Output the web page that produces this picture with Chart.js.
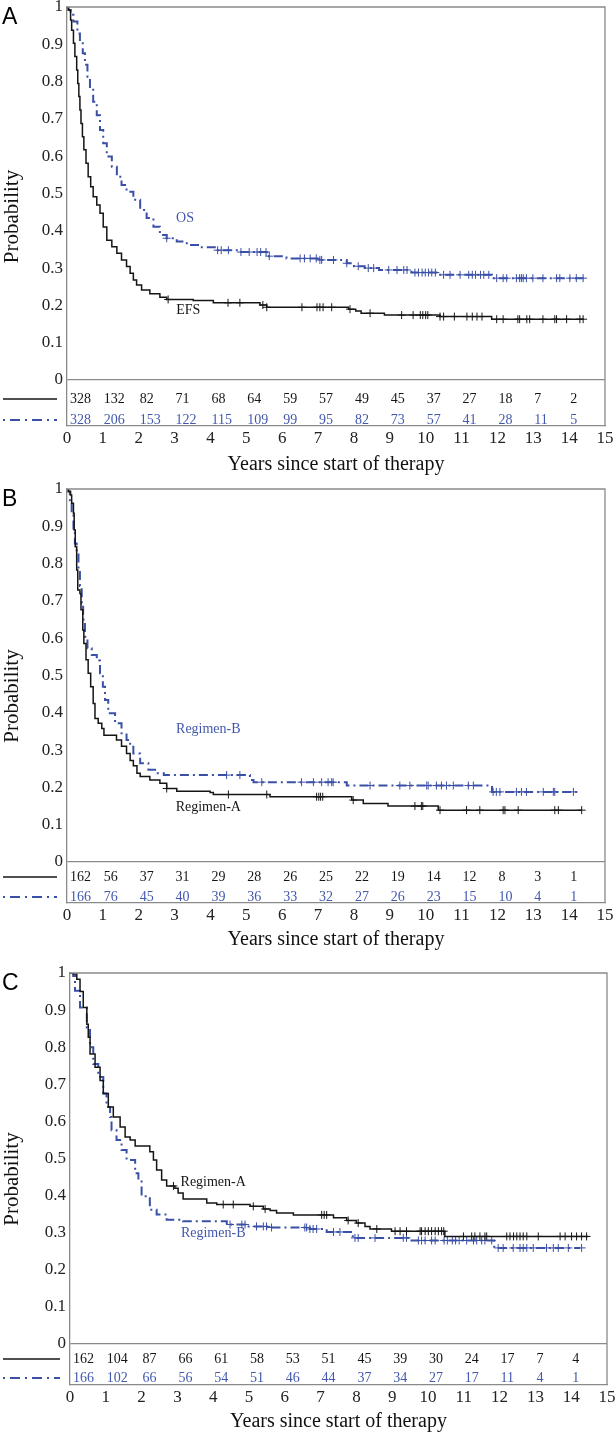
<!DOCTYPE html>
<html>
<head>
<meta charset="utf-8">
<script src="https://cdn.jsdelivr.net/npm/chart.js@4.4.0/dist/chart.umd.min.js"></script>
<style>
  html, body { margin: 0; padding: 0; background: #fff; }
  body { width: 616px; height: 1437px; overflow: hidden; position: relative; }
  .panel { position: absolute; left: 0; width: 616px; height: 483px; }
  canvas { display: block; }
</style>
</head>
<body>
<div class="panel" style="top:0px"><canvas id="chartA" width="616" height="483"></canvas></div>
<div class="panel" style="top:482px"><canvas id="chartB" width="616" height="483"></canvas></div>
<div class="panel" style="top:966px"><canvas id="chartC" width="616" height="483"></canvas></div>
<script>
const yearTicks = [0, 1, 2, 3, 4, 5, 6, 7, 8, 9, 10, 11, 12, 13, 14, 15];
const probTicks = [0, 0.1, 0.2, 0.3, 0.4, 0.5, 0.6, 0.7, 0.8, 0.9, 1];
const probLabels = ["0", "0.1", "0.2", "0.3", "0.4", "0.5", "0.6", "0.7", "0.8", "0.9", "1"];
const riskYears = [0, 1, 2, 3, 4, 5, 6, 7, 8, 9, 10, 11, 12, 13, 14];

// Panel A: EFS / OS
const efsTime = [0, 0.04, 0.1, 0.13, 0.18, 0.22, 0.27, 0.3, 0.33, 0.36, 0.39, 0.43, 0.47, 0.53, 0.59, 0.66, 0.73, 0.83, 0.92, 1.01, 1.11, 1.25, 1.39, 1.52, 1.66, 1.76, 1.85, 1.94, 2.08, 2.31, 2.59, 2.78, 3.52, 4.08, 5.38, 5.57, 7.85, 8.05, 8.2, 8.85, 10.4, 11.84, 14.4];
const efsProb = [1, 0.992, 0.965, 0.938, 0.903, 0.867, 0.831, 0.795, 0.76, 0.724, 0.688, 0.652, 0.617, 0.581, 0.545, 0.518, 0.491, 0.469, 0.447, 0.41, 0.375, 0.357, 0.34, 0.322, 0.304, 0.286, 0.268, 0.255, 0.241, 0.231, 0.222, 0.216, 0.213, 0.207, 0.201, 0.195, 0.19, 0.185, 0.179, 0.174, 0.17, 0.163, 0.163];
const efsCensor = [2.82, 4.49, 4.82, 5.46, 5.57, 6.55, 6.97, 7.05, 7.14, 7.38, 7.89, 8.45, 9.33, 9.65, 9.85, 9.92, 10.0, 10.06, 10.4, 10.5, 10.8, 11.15, 11.3, 11.43, 11.57, 11.98, 12.16, 12.57, 12.62, 12.82, 12.9, 13.27, 13.6, 13.65, 13.93, 14.3, 14.39];
const efsRisk = [328, 132, 82, 71, 68, 64, 59, 57, 49, 45, 37, 27, 18, 7, 2];

const osTime = [0, 0.04, 0.1, 0.18, 0.29, 0.36, 0.44, 0.5, 0.57, 0.64, 0.73, 0.83, 0.92, 1.01, 1.11, 1.25, 1.39, 1.52, 1.66, 1.85, 2.04, 2.22, 2.41, 2.59, 2.78, 3.06, 3.34, 3.71, 4.17, 4.82, 5.57, 6.12, 7.05, 7.8, 8.0, 8.3, 8.7, 9.6, 10.3, 11.85, 14.4];
const osProb = [1, 0.992, 0.979, 0.961, 0.929, 0.907, 0.876, 0.845, 0.813, 0.782, 0.746, 0.71, 0.67, 0.635, 0.599, 0.572, 0.545, 0.523, 0.505, 0.483, 0.456, 0.434, 0.411, 0.389, 0.38, 0.371, 0.362, 0.356, 0.348, 0.343, 0.332, 0.326, 0.322, 0.313, 0.305, 0.3, 0.295, 0.288, 0.282, 0.273, 0.273];
const osCensor = [2.78, 4.2, 4.3, 4.5, 4.85, 5.08, 5.3, 5.4, 5.55, 5.64, 6.5, 6.62, 6.78, 6.95, 7.05, 7.1, 7.43, 7.8, 8.12, 8.4, 8.55, 8.97, 9.2, 9.39, 9.48, 9.7, 9.8, 9.9, 9.99, 10.08, 10.17, 10.27, 10.5, 10.68, 10.96, 11.2, 11.3, 11.39, 11.53, 11.62, 11.76, 11.98, 12.16, 12.26, 12.53, 12.62, 12.67, 12.72, 12.81, 12.99, 13.27, 13.65, 13.74, 14.02, 14.2, 14.39];
const osRisk = [328, 206, 153, 122, 115, 109, 99, 95, 82, 73, 57, 41, 28, 11, 5];

// Panel B: Regimen-A / Regimen-B
const bATime = [0, 0.04, 0.1, 0.13, 0.18, 0.2, 0.23, 0.27, 0.3, 0.36, 0.39, 0.44, 0.47, 0.53, 0.59, 0.66, 0.73, 0.78, 0.87, 0.97, 1.03, 1.38, 1.52, 1.66, 1.76, 1.85, 1.95, 2.04, 2.31, 2.59, 2.78, 3.06, 3.99, 4.08, 5.66, 7.94, 8.26, 8.95, 10.35, 14.35];
const bAProb = [1, 0.993, 0.984, 0.962, 0.935, 0.89, 0.845, 0.783, 0.729, 0.72, 0.676, 0.622, 0.586, 0.542, 0.506, 0.47, 0.425, 0.385, 0.372, 0.358, 0.34, 0.327, 0.31, 0.291, 0.272, 0.258, 0.238, 0.229, 0.22, 0.211, 0.197, 0.19, 0.186, 0.181, 0.175, 0.166, 0.157, 0.15, 0.139, 0.139];
const bACensor = [2.78, 4.5, 5.57, 6.96, 7.02, 7.07, 7.13, 7.98, 9.7, 9.88, 9.92, 10.4, 11.14, 11.51, 12.16, 12.21, 12.58, 13.6, 13.7, 14.35];
const bARisk = [162, 56, 37, 31, 29, 28, 26, 25, 22, 19, 14, 12, 8, 3, 1];

const bBTime = [0, 0.04, 0.08, 0.13, 0.18, 0.22, 0.27, 0.32, 0.36, 0.41, 0.45, 0.5, 0.57, 0.69, 0.83, 0.92, 1.0, 1.06, 1.15, 1.34, 1.52, 1.66, 1.76, 1.85, 2.04, 2.27, 2.5, 2.7, 5.1, 5.2, 7.8, 11.85, 14.25];
const bBProb = [1, 0.993, 0.97, 0.935, 0.89, 0.854, 0.83, 0.783, 0.74, 0.694, 0.65, 0.604, 0.573, 0.555, 0.54, 0.506, 0.47, 0.434, 0.399, 0.372, 0.345, 0.327, 0.309, 0.291, 0.265, 0.247, 0.238, 0.233, 0.22, 0.214, 0.205, 0.188, 0.188];
const bBCensor = [4.45, 4.82, 5.43, 6.54, 6.87, 7.1, 7.28, 7.38, 7.42, 8.45, 9.28, 9.56, 10.03, 10.07, 10.3, 10.44, 10.58, 10.77, 11.19, 11.33, 11.88, 11.97, 12.07, 12.53, 12.67, 12.81, 13.28, 13.56, 13.6, 14.12];
const bBRisk = [166, 76, 45, 40, 39, 36, 33, 32, 27, 26, 23, 15, 10, 4, 1];

// Panel C: Regimen-A / Regimen-B
const cATime = [0, 0.09, 0.19, 0.28, 0.37, 0.47, 0.51, 0.56, 0.7, 0.84, 0.93, 1.07, 1.21, 1.4, 1.54, 1.68, 1.82, 2.23, 2.33, 2.42, 2.56, 2.7, 2.93, 3.02, 3.16, 3.82, 4.1, 5.03, 5.4, 5.59, 5.77, 6.24, 7.36, 7.73, 8.0, 8.24, 8.38, 8.98, 10.47, 14.48];
const cAProb = [1, 0.997, 0.983, 0.95, 0.907, 0.862, 0.827, 0.782, 0.746, 0.71, 0.675, 0.639, 0.612, 0.585, 0.558, 0.55, 0.534, 0.518, 0.496, 0.469, 0.442, 0.426, 0.42, 0.407, 0.391, 0.38, 0.376, 0.371, 0.364, 0.36, 0.353, 0.348, 0.34, 0.333, 0.326, 0.317, 0.31, 0.304, 0.29, 0.29];
const cACensor = [2.89, 4.28, 4.56, 5.12, 5.45, 7.03, 7.1, 7.17, 7.77, 8.05, 8.57, 9.08, 9.22, 9.4, 9.78, 9.82, 9.92, 10.01, 10.1, 10.2, 10.29, 10.38, 10.44, 10.99, 11.22, 11.31, 11.45, 11.59, 11.64, 12.2, 12.29, 12.39, 12.48, 12.57, 12.66, 12.76, 13.08, 13.69, 13.83, 14.01, 14.15, 14.29, 14.43];
const cARisk = [162, 104, 87, 66, 61, 58, 53, 51, 45, 39, 30, 24, 17, 7, 4];

const cBTime = [0, 0.09, 0.14, 0.28, 0.47, 0.56, 0.65, 0.79, 0.93, 1.02, 1.12, 1.16, 1.3, 1.44, 1.58, 1.82, 1.91, 2.0, 2.23, 2.42, 2.7, 3.16, 4.38, 4.94, 5.5, 6.7, 7.17, 7.9, 9.49, 11.85, 14.25];
const cBProb = [1, 0.992, 0.952, 0.907, 0.853, 0.8, 0.755, 0.72, 0.675, 0.639, 0.612, 0.576, 0.55, 0.523, 0.496, 0.46, 0.442, 0.398, 0.362, 0.349, 0.335, 0.331, 0.322, 0.317, 0.314, 0.31, 0.302, 0.286, 0.279, 0.259, 0.259];
const cBCensor = [4.47, 4.8, 4.89, 5.21, 5.4, 5.49, 5.63, 6.56, 6.61, 6.7, 6.79, 6.89, 7.36, 7.54, 7.96, 8.05, 8.52, 9.31, 9.4, 9.73, 9.82, 9.92, 10.1, 10.2, 10.45, 10.54, 10.68, 10.77, 10.87, 11.08, 11.27, 11.36, 11.5, 11.59, 11.78, 11.96, 12.1, 12.38, 12.57, 12.66, 12.76, 12.94, 13.31, 13.5, 13.64, 13.92, 14.29];
const cBRisk = [166, 102, 66, 56, 54, 51, 46, 44, 37, 34, 27, 17, 11, 4, 1];

const BLACK = "#151515";
const BLUE = "#3a4fa6";
const BLUE_TEXT = "#4358ad";
const GREY = "#8a8a8a";
const SERIF = "'Liberation Serif', 'Times New Roman', serif";
const DASHDOT = [9, 4, 2, 4];
const CANVAS_H = 483;

function survAt(times, probs, t) {
  let s = probs[0];
  for (let i = 0; i < times.length; i++) {
    if (times[i] <= t) s = probs[i];
  }
  return s;
}

function toPoints(times, probs) {
  return times.map((t, i) => ({ x: t, y: probs[i] }));
}

function censorPoints(cens, times, probs) {
  return cens.map((t) => ({ x: t, y: survAt(times, probs, t) }));
}

function extrasPlugin(p) {
  return {
    id: "kmExtras",
    afterDraw(chart) {
      const { ctx, chartArea: a, scales: { x, y } } = chart;
      ctx.save();
      ctx.strokeStyle = GREY;
      ctx.lineWidth = 1.3;
      ctx.beginPath();
      ctx.moveTo(a.left, a.top);
      ctx.lineTo(a.right, a.top);
      ctx.lineTo(a.right, a.bottom);
      ctx.stroke();

      ctx.fillStyle = "#000";
      ctx.font = "23px 'Liberation Sans', Arial, sans-serif";
      ctx.textBaseline = "top";
      ctx.textAlign = "left";
      ctx.fillText(p.letter, 2, 6);

      ctx.font = "14px " + SERIF;
      ctx.textAlign = "center";
      ctx.textBaseline = "middle";
      p.names.forEach((n) => {
        ctx.fillStyle = n.color;
        ctx.fillText(n.text, x.getPixelForValue(n.t), y.getPixelForValue(n.s));
      });

      // number at risk
      const zero = y.getPixelForValue(0);
      ctx.textAlign = "left";
      p.risk.forEach((row, r) => {
        const ry = zero + p.rows[r];
        ctx.fillStyle = row.color;
        row.values.forEach((v, i) => {
          ctx.fillText(String(v), x.getPixelForValue(riskYears[i]) + (i === 0 ? 3 : 1), ry);
        });
        ctx.strokeStyle = row.line;
        ctx.lineWidth = row.width;
        ctx.setLineDash(row.dash);
        ctx.beginPath();
        ctx.moveTo(3, ry);
        ctx.lineTo(a.left - 10, ry);
        ctx.stroke();
        ctx.setLineDash([]);
      });
      ctx.restore();
    }
  };
}

function makePanel(id, p) {
  const top = 7;
  const yMin = -(p.bottom - p.zero) / (p.zero - top);
  new Chart(document.getElementById(id), {
    type: "line",
    data: {
      datasets: [
        { data: toPoints(p.aTime, p.aProb), borderColor: BLACK, borderWidth: 1.5, stepped: true, pointRadius: 0, fill: false },
        { data: toPoints(p.bTime, p.bProb), borderColor: BLUE, borderWidth: 2, borderDash: DASHDOT, stepped: true, pointRadius: 0, fill: false },
        { data: censorPoints(p.aCens, p.aTime, p.aProb), showLine: false, pointStyle: "cross", pointRadius: 4, borderColor: BLACK, borderWidth: 1 },
        { data: censorPoints(p.bCens, p.bTime, p.bProb), showLine: false, pointStyle: "cross", pointRadius: 4, borderColor: BLUE, borderWidth: 1 }
      ]
    },
    options: {
      responsive: false,
      devicePixelRatio: 1,
      animation: false,
      events: [],
      layout: { padding: { top: top, right: 616 - p.right, left: 0, bottom: 0 } },
      plugins: { legend: { display: false }, tooltip: { enabled: false } },
      scales: {
        x: {
          type: "linear",
          min: 0,
          max: 15,
          afterBuildTicks: (axis) => { axis.ticks = yearTicks.map((v) => ({ value: v })); },
          afterFit: (axis) => { axis.height = CANVAS_H - p.bottom; axis.paddingLeft = 0; axis.paddingRight = 0; },
          ticks: { color: "#222", font: { family: SERIF, size: 17 }, padding: 2, maxRotation: 0, callback: (v, i) => String(yearTicks[i]) },
          grid: { display: false, drawTicks: false },
          border: { display: true, color: GREY, width: 1.3 },
          title: { display: true, text: "Years since start of therapy", color: "#111", font: { family: SERIF, size: 20 }, padding: { top: 0, bottom: CANVAS_H - p.title - 12 } }
        },
        y: {
          min: yMin,
          max: 1,
          afterBuildTicks: (axis) => { axis.ticks = probTicks.map((v) => ({ value: v })); },
          afterFit: (axis) => { axis.width = p.left; axis.paddingTop = 0; axis.paddingBottom = 0; },
          ticks: { color: "#222", font: { family: SERIF, size: 17 }, padding: 4, callback: (v, i) => probLabels[i] },
          grid: { drawTicks: false, lineWidth: 1.3, color: (c) => (c.tick && c.tick.value === 0 ? GREY : "rgba(0,0,0,0)") },
          border: { display: true, color: GREY, width: 1.3 },
          title: { display: true, text: "Probability", color: "#111", font: { family: SERIF, size: 21 }, padding: { top: 0, bottom: 0 } }
        }
      }
    },
    plugins: [extrasPlugin(p)]
  });
}

makePanel("chartA", {
  letter: "A", left: 67, right: 605, zero: 380, bottom: 426, title: 465, rows: [19, 40],
  aTime: efsTime, aProb: efsProb, aCens: efsCensor,
  bTime: osTime, bProb: osProb, bCens: osCensor,
  names: [
    { text: "OS", t: 3.29, s: 0.434, color: BLUE_TEXT },
    { text: "EFS", t: 3.38, s: 0.186, color: BLACK }
  ],
  risk: [
    { values: efsRisk, color: BLACK, line: BLACK, width: 1.5, dash: [] },
    { values: osRisk, color: BLUE_TEXT, line: BLUE, width: 2, dash: [2, 5, 10, 5] }
  ]
});

makePanel("chartB", {
  letter: "B", left: 67, right: 605, zero: 380, bottom: 421, title: 458, rows: [15, 35],
  aTime: bATime, aProb: bAProb, aCens: bACensor,
  bTime: bBTime, bProb: bBProb, bCens: bBCensor,
  names: [
    { text: "Regimen-B", t: 3.94, s: 0.356, color: BLUE_TEXT },
    { text: "Regimen-A", t: 3.94, s: 0.147, color: BLACK }
  ],
  risk: [
    { values: bARisk, color: BLACK, line: BLACK, width: 1.5, dash: [] },
    { values: bBRisk, color: BLUE_TEXT, line: BLUE, width: 2, dash: [2, 5, 10, 5] }
  ]
});

makePanel("chartC", {
  letter: "C", left: 70, right: 607, zero: 378, bottom: 419, title: 456, rows: [15, 34],
  aTime: cATime, aProb: cAProb, aCens: cACensor,
  bTime: cBTime, bProb: cBProb, bCens: cBCensor,
  names: [
    { text: "Regimen-A", t: 4.0, s: 0.436, color: BLACK },
    { text: "Regimen-B", t: 4.0, s: 0.298, color: BLUE_TEXT }
  ],
  risk: [
    { values: cARisk, color: BLACK, line: BLACK, width: 1.5, dash: [] },
    { values: cBRisk, color: BLUE_TEXT, line: BLUE, width: 2, dash: [2, 5, 10, 5] }
  ]
});
</script>
</body>
</html>
